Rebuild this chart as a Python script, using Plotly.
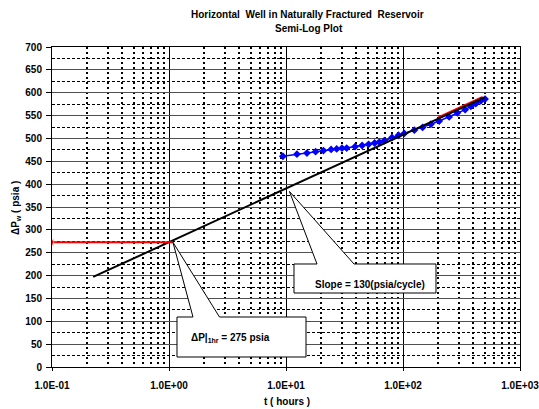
import numpy as np
import plotly.graph_objects as go

# ---------------- data ----------------
blue_t = [9.4, 12.4, 15.1, 17.9, 20.9, 24.3, 27.1, 30.1, 33.0, 38.9, 44.7, 50.8, 57.2,
          62.7, 69.2, 80.5, 91.6, 102.5, 125, 147, 173, 204, 248, 292, 340, 380, 419, 462, 503]
blue_p = [461, 465.5, 468, 471, 473.5, 476, 477, 478.6, 479, 482, 484.5, 487, 490,
          492, 495, 502, 507, 511, 518, 524, 531, 538, 547, 556, 563, 570, 576, 582, 586]
fit_t = [0.225, 500]
fit_p = [197, 590]
red_t = [0.1, 1.08]
red_p = [273, 273]
red2_t = [200, 480]
red2_p = [546, 591]

x_tickvals = [0.1, 1, 10, 100, 1000]
x_ticktext = ["1.0E-01", "1.0E+00", "1.0E+01", "1.0E+02", "1.0E+03"]
x_minor = [k * 10.0 ** d for d in range(-1, 3) for k in range(2, 10)]
y_tickvals = list(range(0, 701, 50))
y_minor = list(range(25, 700, 50))

# ---------------- layout helpers ----------------
W, H = 539, 409
L, R, T, B = 52, 19, 47, 42
pw, ph = W - L - R, H - T - B
XMIN, XMAX = -1, 3
YMIN, YMAX = 0, 700
FONT = "Liberation Sans, Arial, sans-serif"


def px(t):
    return L + (np.log10(t) - XMIN) / (XMAX - XMIN) * pw


def py(v):
    return T + (YMAX - v) / (YMAX - YMIN) * ph


def fx(p):
    return (p - L) / pw


def fy(p):
    return (H - B - p) / ph


fig = go.Figure()

fig.add_trace(go.Scatter(x=red2_t, y=red2_p, mode="lines",
                         line=dict(color="#FF0000", width=2), showlegend=False))
fig.add_trace(go.Scatter(x=blue_t, y=blue_p, mode="lines+markers",
                         line=dict(color="#0000FF", width=1.5),
                         marker=dict(symbol="diamond", size=6, color="#0000FF"),
                         showlegend=False))
fig.add_trace(go.Scatter(x=fit_t, y=fit_p, mode="lines",
                         line=dict(color="#000000", width=2), showlegend=False))
fig.add_trace(go.Scatter(x=red_t, y=red_p, mode="lines+markers",
                         line=dict(color="#FF0000", width=2),
                         marker=dict(symbol="triangle-left", size=[7, 0], color="#FF0000"),
                         showlegend=False))


def callout(left, top, right, bottom, b1, b2, tip):
    tx, ty = tip
    pts = [(left, top), (b1, top), (tx, ty), (b2, top), (right, top),
           (right, bottom), (left, bottom)]
    path = "M " + " L ".join(f"{fx(a):.5f},{fy(b):.5f}" for a, b in pts) + " Z"
    fig.add_shape(type="path", path=path, xref="paper", yref="paper",
                  fillcolor="white", line=dict(color="black", width=1), layer="above")


# slope callout
callout(294, 264, 436, 293, 317, 354, (px(10.7), py(384)))
# delta P callout
callout(177, 317, 306, 357, 193, 219.5, (px(red_t[1]), py(red_p[1])))

ann = []
ann.append(dict(x=fx(370), y=fy(284), text="Slope = 130(psia/cycle)", size=10))
ann.append(dict(x=fx(230), y=fy(338), text="ΔP|<sub>1hr</sub> = 275 psia", size=10))
ann.append(dict(x=fx(307), y=fy(15), text="Horizontal  Well in Naturally Fractured  Reservoir", size=10))
ann.append(dict(x=fx(309), y=fy(28), text="Semi-Log Plot", size=10))
ann.append(dict(x=fx(286.5), y=fy(401), text="t ( hours )", size=10))
for a in ann:
    s = a.pop("size")
    a.update(xref="paper", yref="paper", showarrow=False, xanchor="center", yanchor="middle",
             font=dict(family=FONT, size=s, color="black", weight="bold"))
ann.append(dict(x=fx(16), y=fy(208), text="ΔP<sub>w</sub> ( psia )", textangle=-90,
                xref="paper", yref="paper", showarrow=False, xanchor="center", yanchor="middle",
                font=dict(family=FONT, size=10, color="black", weight="bold")))

fig.update_layout(
    width=W, height=H,
    margin=dict(l=L, r=R, t=T, b=B, pad=0),
    paper_bgcolor="white", plot_bgcolor="white",
    annotations=ann,
    font=dict(family=FONT, color="black"),
    xaxis=dict(type="log", range=[XMIN, XMAX], tickvals=x_tickvals, ticktext=x_ticktext,
               showgrid=True, gridcolor="#000000", gridwidth=1,
               showline=True, linecolor="black", linewidth=1, mirror=True,
               ticks="outside", ticklen=3, tickcolor="black", ticklabelstandoff=6,
               ticklabeloverflow="allow", automargin=False,
               tickfont=dict(family=FONT, size=10, color="black", weight="bold"),
               zeroline=False,
               minor=dict(tickvals=x_minor, showgrid=True, gridcolor="#000000",
                          gridwidth=1.5, griddash="2px,3px", ticks="")),
    yaxis=dict(range=[YMIN, YMAX], tickvals=y_tickvals,
               showgrid=True, gridcolor="#505050", gridwidth=1,
               showline=True, linecolor="black", linewidth=1, mirror=True,
               ticks="outside", ticklen=5, tickcolor="black", ticklabelstandoff=2,
               automargin=False,
               tickfont=dict(family=FONT, size=10, color="black", weight="bold"),
               zeroline=False,
               minor=dict(tickvals=y_minor, showgrid=True, gridcolor="#000000",
                          gridwidth=1, griddash="3px,2px", ticks="")),
)

fig.write_html("out.html")
